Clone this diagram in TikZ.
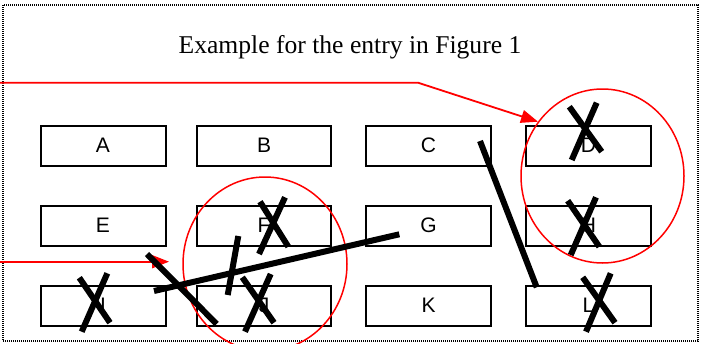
\documentclass[tikz,border=0pt]{standalone}
\usepackage{fontspec}
\setmainfont{Liberation Serif}
\newfontfamily\boxfont{Liberation Sans}
\usetikzlibrary{arrows.meta}
\definecolor{pureRed}{RGB}{255,0,0}
\begin{document}
\begin{tikzpicture}[x=1pt,y=-1pt,
  cell/.style={draw, line width=2pt, minimum height=40pt, inner sep=0pt,
    font=\boxfont\fontsize{21}{25}\selectfont},
  narrowcell/.style={cell, minimum width=125pt},
  widecell/.style={cell, minimum width=134pt},
  xstroke/.style={line width=6pt},
  redring/.style={draw=pureRed, line width=1.5pt},
  redarrow/.style={draw=pureRed, line width=1.8pt, -{Triangle[length=17pt,width=13pt]}, pureRed},
  frame/.style={draw, line width=1.8pt, dash pattern=on 1pt off 1pt}
]
\useasboundingbox (0,0) rectangle (701,343);
\fill[white] (0,0) rectangle (701,343);
\draw[frame] (3,5) rectangle (698,341);

\node[anchor=base, font=\fontsize{25.6}{30}\selectfont] (title) at (350,53.3) {Example for the entry in Figure 1};

% boxes
\node[narrowcell] (A) at (103,145.7) {A};
\node[widecell]   (B) at (264,145.7) {B};
\node[narrowcell] (C) at (428.5,145.7) {C};
\node[narrowcell] (D) at (588.5,145.7) {D};
\node[narrowcell] (E) at (103,225.7) {E};
\node[widecell]   (F) at (264,225.7) {F};
\node[narrowcell] (G) at (428.5,225.7) {G};
\node[narrowcell] (H) at (588.5,225.7) {H};
\node[narrowcell] (I) at (103,305.7) {I};
\node[widecell]   (J) at (264,305.7) {J};
\node[narrowcell] (K) at (428.5,305.7) {K};
\node[narrowcell] (L) at (588.5,305.7) {L};

% red rings
\draw[redring] (602.5,176) ellipse [x radius=81.5, y radius=87];
\draw[redring] (265,264) ellipse [x radius=82, y radius=87];

% red arrows
\coordinate (s1) at (0,82.7);
\coordinate (b1) at (418,82.7);
\coordinate (t1) at (538,121.7);
\draw[redarrow] (s1) -- (b1) -- (t1);
\coordinate (s2) at (0,261.7);
\coordinate (t2) at (169,261.7);
\draw[redarrow] (s2) -- (t2);

% strike-outs
\draw[xstroke] (259,254) -- (285,197.3);
\draw[xstroke] (260,201.7) -- (288.3,246.7);
\draw[xstroke] (245,331.7) -- (270.7,274);
\draw[xstroke] (242.3,277.3) -- (274,322.7);
\draw[xstroke] (81.7,331.7) -- (107.3,273.3);
\draw[xstroke] (79.3,277.7) -- (110,322.7);
\draw[xstroke] (571.7,160) -- (596.7,102.7);
\draw[xstroke] (569.3,106.7) -- (601.7,151.7);
\draw[xstroke] (570.7,255) -- (596,197.3);
\draw[xstroke] (567.7,200.7) -- (599.3,246.7);
\draw[xstroke] (586,331.7) -- (610.7,273.3);
\draw[xstroke] (582.7,277.3) -- (615,322.7);

% connecting strokes
\draw[xstroke] (480,141) -- (536.7,287.3);
\draw[xstroke] (154,291) -- (399.3,234.3);
\draw[xstroke] (147,254) -- (216.7,324);
\draw[xstroke] (238.3,236) -- (227.7,295);
\end{tikzpicture}
\end{document}
